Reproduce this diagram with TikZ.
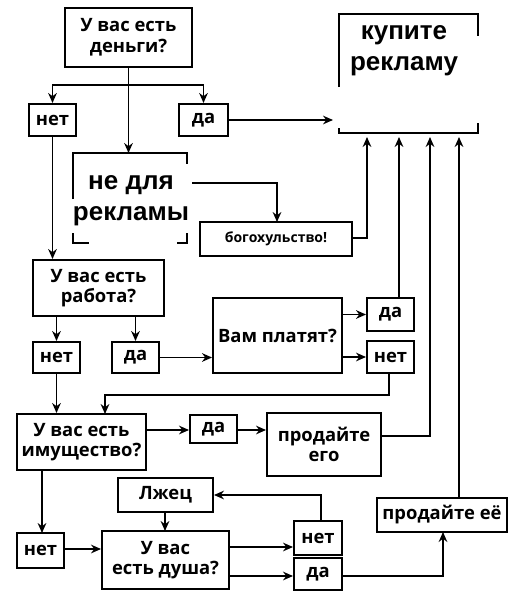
\documentclass[tikz,border=0pt]{standalone}
\usepackage{fontspec}
\newfontfamily\osans{Open Sans}
\newfontfamily\lsans{Liberation Sans}
\usetikzlibrary{arrows.meta}
\newcommand\mybox[7][]{\node[box,#1,minimum width={(#5-#3)*0.75pt},minimum height={(#6-#4)*0.75pt}] (#2) at ({(#3+#5)/2},{(#4+#6)/2}) {#7};}
\begin{document}
\begin{tikzpicture}[x=0.75pt,y=-0.75pt,
  box/.style={draw,line width=1.5pt,inner sep=0pt,align=center,
    font=\osans\bfseries\fontsize{13.8}{15.5}\selectfont},
  frame/.style={line width=1.5pt},
  conn/.style={line width=1.2pt},
  arr/.style={conn,-{Stealth[length=7.5pt,width=6.5pt]}},
  bigtext/.style={inner sep=0pt,align=center,font=\lsans\bfseries\fontsize{19.5}{23.5}\selectfont}]
\useasboundingbox (0,0) rectangle (520,604);

% boxes
\mybox{money}{65}{8}{192}{67}{У вас есть\\деньги?}
\mybox{no1}{29}{104}{76}{136}{нет}
\mybox{yes1}{179}{104}{228}{136}{да}
\mybox[font=\osans\bfseries\fontsize{10.5}{12}\selectfont]{blas}{200}{222}{352}{256}{богохульство!}
\mybox{job}{33}{260}{164}{316}{У вас есть\\работа?}
\mybox{no2}{33}{342}{80}{373}{нет}
\mybox{yes2}{112}{342}{159}{373}{да}
\mybox{paid}{213}{298}{342}{373}{Вам платят?}
\mybox{yes3}{367}{298}{414}{331}{да}
\mybox{no3}{367}{341}{414}{373}{нет}
\mybox{prop}{17}{414}{146}{470}{У вас есть\\имущество?}
\mybox{yes4}{190}{415}{237}{443}{да}
\mybox{sellit}{267}{413}{381}{476}{продайте\\его}
\mybox{liar}{118}{478}{213}{512}{Лжец}
\mybox{no4}{17}{533}{64}{568}{нет}
\mybox{soul}{102}{531}{229}{589}{У вас\\есть душа?}
\mybox{no5}{294}{521}{342}{555}{нет}
\mybox{yes5}{294}{558}{342}{590}{да}
\mybox{sellher}{377}{498}{507}{532}{продайте её}

% broken boxes
\mybox[draw=none]{notad}{74}{154}{186}{242}{}
\mybox[draw=none]{buy}{340}{15}{477}{132}{}
\node[bigtext] (notadt) at (131,201) {не для\\рекламы};
\node[bigtext] (buyt) at (404,51) {купите\\рекламу};
\draw[frame] (notad.north west) ++(0,46) -- (notad.north west) -- (notad.north east) -- ++(0,11);
\draw[frame] (notad.south west) ++(0,-10) -- (notad.south west) -- ++(16,0);
\draw[frame] (notad.south east) ++(0,-10) -- (notad.south east) -- ++(-10,0);
\draw[frame] (buy.north west) ++(0,73) -- (buy.north west) -- (buy.north east) -- ++(0,22);
\draw[frame] (buy.south west) ++(0,-5) -- (buy.south west) -- (buy.south east) -- ++(0,-10);

% connectors
\coordinate (m1) at (money.south |- 0,85);
\draw[conn] (money.south) -- (m1);
\draw[arr] (m1) -| (no1.north);
\draw[arr] (m1) -| (yes1.north);
\draw[arr] (m1) -- (notad.north -| m1);
\draw[arr] (yes1.east) -- (333,120) coordinate (buyin);
\draw[arr] (no1.south) -- (no1.south |- job.north);
\coordinate (nd) at (192,183);
\draw[arr] (nd) -| (277,222) coordinate (blin);
\draw[arr] (blas.east |- 0,238) -| (367,137);
\draw[arr] (yes3.north -| 399,0) -- (399,137);
\draw[arr] (sellit.east |- 0,436) -| (430,137);
\draw[arr] (sellher.north -| 459,0) -- (459,137);

\draw[arr] (job.south -| no2.north) -- (no2.north);
\draw[arr] (job.south -| yes2.north) -- (yes2.north);
\draw[arr] (yes2.east) -- (yes2.east -| paid.west);
\draw[arr] (paid.east |- yes3.west) -- (yes3.west);
\draw[arr] (paid.east |- 0,357) -- (no3.west |- 0,357);
\draw[arr] (no3.south -| 389,0) |- (105,395) -- (105,414);
\draw[arr] (no2.south) -- (no2.south |- prop.north);

\draw[arr] (prop.east |- 0,430) -- (yes4.west |- 0,430);
\draw[arr] (yes4.east |- 0,430) -- (sellit.west |- 0,430);
\draw[arr] (prop.south -| 42,0) -- (42,533);
\draw[arr] (no4.east |- 0,549) -- (soul.west |- 0,549);
\draw[arr] (liar.south -| 165,0) -- (165,531);
\draw[arr] (soul.east |- 0,547) -- (no5.west |- 0,547);
\draw[arr] (soul.east |- 0,576) -- (yes5.west |- 0,576);
\draw[arr] (no5.north -| 321,0) |- (liar.east);
\draw[arr] (yes5.east |- 0,576) -| (443,532);
\end{tikzpicture}
\end{document}
